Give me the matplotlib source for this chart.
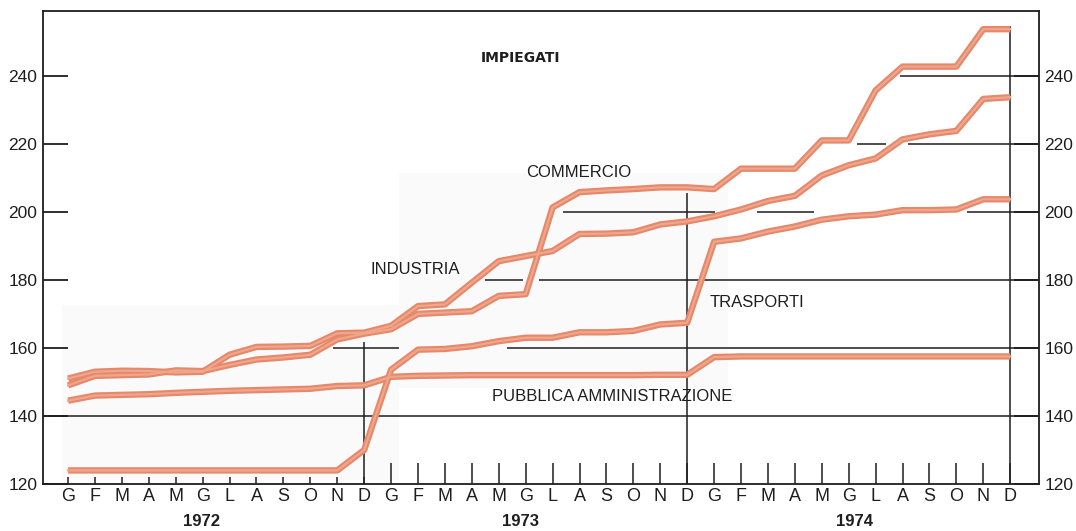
import matplotlib
matplotlib.use("Agg")
import matplotlib.pyplot as plt

# months of 1972, 1973, 1974 (Italian initials)
month_labels = ["G", "F", "M", "A", "M", "G", "L", "A", "S", "O", "N", "D"] * 3
years = ["1972", "1973", "1974"]
year_pos = [4.95, 16.8, 29.2]

# index values, one per month
industria = [151, 153, 153.3, 153.2, 152.8, 153, 158, 160.3, 160.4, 160.6, 164.3, 164.5,
             166.5, 172.3, 172.8, 179.2, 185.5, 187, 188.5, 193.5, 193.6, 194, 196.3, 197.2,
             198.7, 200.7, 203.2, 204.7, 210.7, 213.7, 215.7, 221.3, 222.8, 223.8, 233.2, 233.7]
commercio = [149, 151.8, 152, 152.2, 153.4, 153.2, 155, 156.6, 157.2, 158, 162.5, 164.2,
             165.5, 170, 170.4, 170.8, 175.3, 175.8, 201.3, 205.8, 206.3, 206.7, 207.2, 207.2,
             206.7, 212.7, 212.7, 212.7, 221, 221, 235.7, 242.7, 242.7, 242.7, 253.7, 253.7]
trasporti = [124, 124, 124, 124, 124, 124, 124, 124, 124, 124, 124, 130,
             153.6, 159.5, 159.7, 160.5, 162, 163, 163, 164.6, 164.6, 165, 166.9, 167.4,
             191.2, 192.2, 194.2, 195.7, 197.7, 198.7, 199.2, 200.5, 200.5, 200.7, 203.7, 203.7]
pubblica = [144.5, 146, 146.2, 146.4, 146.8, 147.1, 147.4, 147.6, 147.8, 148, 148.8, 149,
            151.5, 151.8, 151.9, 152, 152, 152, 152, 152, 152, 152, 152.1, 152.1,
            157.3, 157.5, 157.5, 157.5, 157.5, 157.5, 157.5, 157.5, 157.5, 157.5, 157.5, 157.5]

x = list(range(len(month_labels)))
ink = "#1e1e1e"
line_out = "#e5886b"
line_in = "#f0a68a"

plt.rcParams["font.family"] = ["Liberation Sans", "DejaVu Sans"]

fig = plt.figure(figsize=(10.76, 5.31), dpi=100)
ax = fig.add_axes([0.040, 0.0885, 0.9256, 0.8905])
ax.set_xlim(-0.93, 36.07)
ax.set_ylim(120, 259)

# faint grey paper patches behind the curves
ax.fill_between([-0.22, 12.3], 121.2, 172.6, color="#fafafa", lw=0, zorder=0)
ax.fill_between([12.3, 24.5], 148.2, 211.5, color="#fafafa", lw=0, zorder=0)

# broken grid lines as in the printed chart
ax.axhline(140, color=ink, lw=1.1, zorder=1)
grid_segments = [
    (160, 9.85, 12.3), (160, 16.3, 36.07),
    (180, 15.5, 16.9), (180, 17.5, 36.07),
    (200, 18.4, 24.05), (200, 25.6, 27.7), (200, 33.4, 36.07),
    (220, 29.3, 30.4), (220, 31.2, 36.07),
    (240, 30.9, 36.07),
]
for yv, x0, x1 in grid_segments:
    ax.hlines(yv, x0, x1, color=ink, lw=1.1, zorder=1)
ax.vlines(11, 120, 161.8, color=ink, lw=1.1, zorder=1)
ax.vlines(23, 120, 205.6, color=ink, lw=1.1, zorder=1)
ax.vlines(35, 120, 254.5, color=ink, lw=1.1, zorder=1)

# month ticks: short in 1972, taller afterwards
tick_top = [122] * 12 + [126.3] * 24
ax.vlines(x, 120, tick_top, color=ink, lw=1.1, zorder=1)

for series in [pubblica, trasporti, industria, commercio]:
    ax.plot(x, series, color=line_out, lw=4.6, solid_joinstyle="round",
            solid_capstyle="butt", zorder=3)
    ax.plot(x, series, color=line_in, lw=1.6, solid_joinstyle="round", zorder=4)

ax.text(16.8, 245.3, "IMPIEGATI", ha="center", va="center", fontsize=10,
        fontweight="bold", color=ink, family="DejaVu Sans")
label_style = dict(ha="center", va="center", fontsize=12, color=ink)
ax.text(18.96, 211.5, "COMMERCIO", **label_style)
ax.text(12.9, 183, "INDUSTRIA", **label_style)
ax.text(25.6, 173.5, "TRASPORTI", **label_style)
ax.text(20.2, 145.6, "PUBBLICA AMMINISTRAZIONE", **label_style)

# axes and labels
for side in ["left", "right", "top", "bottom"]:
    ax.spines[side].set_color(ink)
    ax.spines[side].set_linewidth(1.3)
ax.set_xticks(x)
ax.set_xticklabels(month_labels, fontsize=13, color=ink)
ax.tick_params(axis="x", length=0, pad=3)
ax.set_yticks([120, 140, 160, 180, 200, 220, 240])
ax.tick_params(axis="y", direction="in", length=18, width=1.3, color=ink,
               labelsize=12.5, labelcolor=ink, pad=4, right=True, labelright=True)

for yr, xp in zip(years, year_pos):
    ax.annotate(yr, xy=(xp, 0), xycoords=("data", "axes fraction"),
                xytext=(0, -27), textcoords="offset points", ha="center", va="center",
                fontsize=12, fontweight="bold", color=ink)

fig.savefig("out.png", dpi=100)
